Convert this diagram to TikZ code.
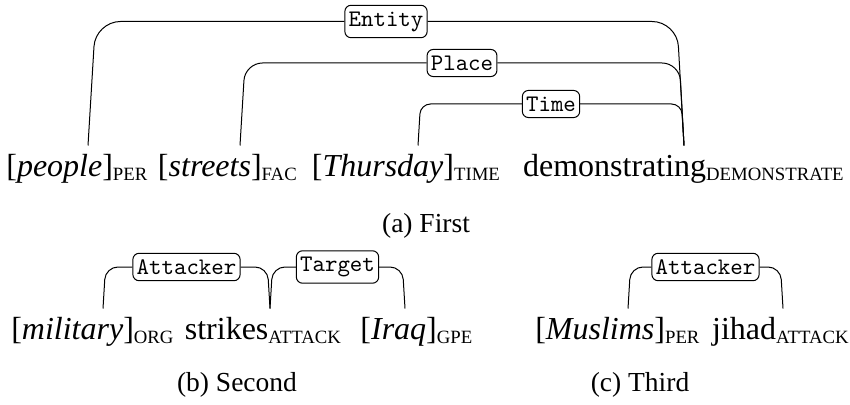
\documentclass[tikz,border=0pt]{standalone}
\usepackage{fontspec}
\setmainfont{Liberation Serif}
\usepackage{tikz}
\usetikzlibrary{positioning}
\newcommand{\tagsc}[1]{$_{\hbox{\fontsize{7.5pt}{8pt}\selectfont #1}}$}

\begin{document}
\begin{tikzpicture}[x=0.4pt, y=-0.4pt,
  word/.style={anchor=base, inner xsep=0pt, inner ysep=3pt, text height=9pt, font=\fontsize{12.8pt}{15pt}\selectfont},
  lab/.style={draw, fill=white, rounded corners=2.5pt, inner xsep=1.5pt, inner ysep=2.5pt, font=\fontsize{9.5pt}{11pt}\selectfont\ttfamily},
  subcap/.style={anchor=base, font=\fontsize{11pt}{13pt}\selectfont}]
\useasboundingbox (0,0) rectangle (850,405);
% (a) words
\node[word] (people) at (77.5,176) {[\textit{people}]\tagsc{PER}};
\node[word] (streets) at (228,176) {[\textit{streets}]\tagsc{FAC}};
\node[word] (thursday) at (406.5,176) {[\textit{Thursday}]\tagsc{TIME}};
\node[word] (demo) at (684,176) {demonstrating\tagsc{DEMONSTRATE}};
% (a) labels
\node[lab] (entity) at (386,21.5) {Entity};
\node[lab] (place) at (462,63) {Place};
\node[lab] (time) at (551,104) {Time};
% (a) arcs
\draw[rounded corners=10pt] ([shift={(10.5,0)}]people.north) -- (95.5,21.5) -- (entity) -- (677,21.5) -- (demo.north);
\draw[rounded corners=7pt] ([shift={(12,0)}]streets.north) -- (245,63) -- (place) -- (679.5,63) -- (demo.north);
\draw[rounded corners=4pt] ([shift={(11.5,0)}]thursday.north) -- (420.5,104) -- (time) -- (681.5,104) -- (demo.north);
\node[subcap] (capa) at (426,232) {(a) First};

% (b) words
\node[word] (military) at (93,339) {[\textit{military}]\tagsc{ORG}};
\node[word] (strikes) at (263.5,339) {strikes\tagsc{ATTACK}};
\node[word] (iraq) at (417,339) {[\textit{Iraq}]\tagsc{GPE}};
% (b) labels and arcs
\node[lab] (attb) at (186.5,267) {Attacker};
\node[lab] (target) at (337.5,267) {Target};
\draw[rounded corners=5pt] ([shift={(10,0)}]military.north) -- (105.5,267) -- (attb) -- (267.5,267) -- ([shift={(6.5,0)}]strikes.north);
\draw[rounded corners=5pt] ([shift={(6.5,0)}]strikes.north) -- (272.5,267) -- (target) -- (402.5,267) -- ([shift={(-12,0)}]iraq.north);
\node[subcap] (capb) at (237,391) {(b) Second};

% (c) words
\node[word] (muslims) at (618,339) {[\textit{Muslims}]\tagsc{PER}};
\node[word] (jihad) at (781,339) {jihad\tagsc{ATTACK}};
% (c) label and arc
\node[lab] (attc) at (705.5,267) {Attacker};
\draw[rounded corners=5pt] ([shift={(10,0)}]muslims.north) -- (630.5,267) -- (attc) -- (780.5,267) -- ([shift={(2,0)}]jihad.north);
\node[subcap] (capc) at (640,391) {(c) Third};
\end{tikzpicture}
\end{document}
